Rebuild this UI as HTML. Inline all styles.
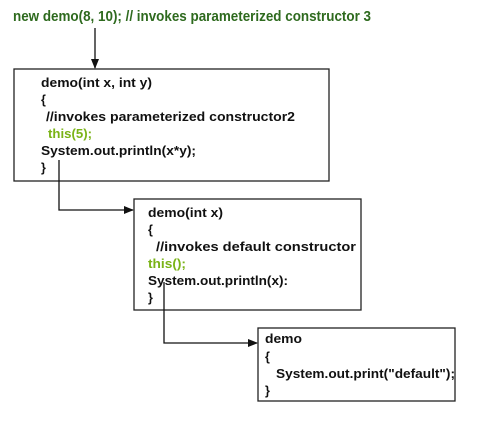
<!DOCTYPE html>
<html><head><meta charset="utf-8"><style>
html,body{margin:0;padding:0;background:#fff;}
svg text{font-family:"Liberation Sans",sans-serif;font-weight:bold;font-size:12.5px;fill:#111;}
</style></head><body>
<svg width="500" height="418" viewBox="0 0 500 418" xmlns="http://www.w3.org/2000/svg">
<defs><marker id="a" markerWidth="10" markerHeight="10" refX="9" refY="5" orient="auto" markerUnits="userSpaceOnUse"><path d="M0,1 L10,5 L0,9 Z" fill="#111"/></marker></defs>
<text x="13" y="21" style="font-size:15px;fill:#2e6a1e;font-weight:normal;font-weight:600" textLength="358" lengthAdjust="spacingAndGlyphs">new demo(8, 10); // invokes parameterized constructor 3</text>
<line x1="95" y1="28" x2="95" y2="68" stroke="#111" stroke-width="1.3" marker-end="url(#a)"/>
<rect x="14" y="69" width="315" height="112" fill="none" stroke="#222" stroke-width="1.3"/>
<text x="41" y="87" textLength="111" lengthAdjust="spacingAndGlyphs">demo(int x, int y)</text>
<text x="41" y="104">{</text>
<text x="46" y="121" textLength="249" lengthAdjust="spacingAndGlyphs">//invokes parameterized constructor2</text>
<text x="48" y="138" style="fill:#7ab317" textLength="44" lengthAdjust="spacingAndGlyphs">this(5);</text>
<text x="41" y="155" textLength="155" lengthAdjust="spacingAndGlyphs">System.out.println(x*y);</text>
<text x="41" y="172">}</text>
<polyline points="59,160 59,210 133,210" fill="none" stroke="#111" stroke-width="1.3" marker-end="url(#a)"/>
<rect x="134" y="199" width="227" height="111" fill="none" stroke="#222" stroke-width="1.3"/>
<text x="148" y="217" textLength="75" lengthAdjust="spacingAndGlyphs">demo(int x)</text>
<text x="148" y="234">{</text>
<text x="156" y="251" textLength="200" lengthAdjust="spacingAndGlyphs">//invokes default constructor</text>
<text x="148" y="268" style="fill:#7ab317" textLength="38" lengthAdjust="spacingAndGlyphs">this();</text>
<text x="148" y="285" textLength="140" lengthAdjust="spacingAndGlyphs">System.out.println(x):</text>
<text x="148" y="302">}</text>
<polyline points="164,282 164,343 257,343" fill="none" stroke="#111" stroke-width="1.3" marker-end="url(#a)"/>
<rect x="258" y="328" width="197" height="73" fill="none" stroke="#222" stroke-width="1.3"/>
<text x="265" y="343" textLength="37" lengthAdjust="spacingAndGlyphs">demo</text>
<text x="265" y="361">{</text>
<text x="276" y="378" textLength="179" lengthAdjust="spacingAndGlyphs">System.out.print("default");</text>
<text x="265" y="395">}</text>
</svg>
</body></html>
